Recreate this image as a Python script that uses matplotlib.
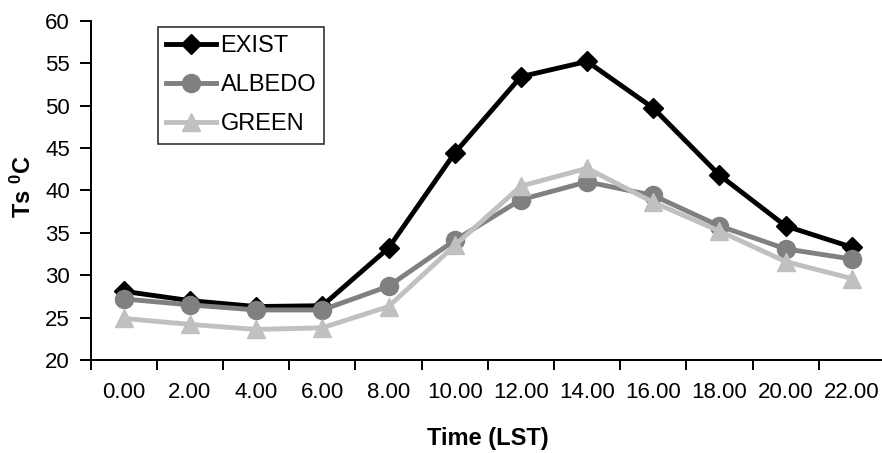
import numpy as np
import matplotlib
matplotlib.use("Agg")
import matplotlib.pyplot as plt

# Donnees
hours = ["0.00", "2.00", "4.00", "6.00", "8.00", "10.00",
         "12.00", "14.00", "16.00", "18.00", "20.00", "22.00"]
exist = [28.1, 27.0, 26.3, 26.4, 33.2, 44.4, 53.4, 55.2, 49.7, 41.8, 35.8, 33.3]
albedo = [27.2, 26.5, 25.9, 25.9, 28.7, 34.1, 38.9, 41.0, 39.4, 35.8, 33.1, 31.9]
green = [24.9, 24.2, 23.6, 23.8, 26.3, 33.5, 40.5, 42.6, 38.6, 35.2, 31.6, 29.6]


def main():
    plt.rcParams["font.family"] = ["Liberation Sans", "DejaVu Sans"]
    plt.rcParams["mathtext.fontset"] = "custom"
    plt.rcParams["mathtext.bf"] = "Liberation Sans:bold"
    plt.rcParams["mathtext.rm"] = "Liberation Sans"

    fig = plt.figure(figsize=(8.82, 4.53), dpi=100)
    ax = fig.add_axes([0.1028, 0.2053, 0.9005, 0.749])

    x = np.arange(len(hours))
    ax.plot(x, exist, color="black", lw=3.5, marker="D", ms=10, label="EXIST")
    ax.plot(x, albedo, color="#808080", lw=3.5, marker="o", ms=13, label="ALBEDO")
    ax.plot(x, green, color="#c0c0c0", lw=3.5, marker="^", ms=13, label="GREEN")

    ax.set_xlim(-0.5, len(hours) - 0.5)
    ax.set_ylim(20, 60)
    ax.set_yticks(np.arange(20, 61, 5))

    # graduations entre les categories, etiquettes au centre
    ax.set_xticks(x)
    ax.set_xticklabels(hours)
    ax.set_xticks(np.arange(-0.5, len(hours)), minor=True)
    ax.tick_params(axis="x", which="major", length=0, pad=16, labelsize=16)
    ax.tick_params(axis="x", which="minor", length=7, width=1.4, direction="out")
    ax.tick_params(axis="y", length=8, width=1.4, pad=7, labelsize=16)

    for side in ["top", "right"]:
        ax.spines[side].set_visible(False)
    for side in ["left", "bottom"]:
        ax.spines[side].set_linewidth(1.4)

    ax.set_xlabel("Time (LST)", fontsize=17, fontweight="bold")
    ax.set_ylabel(r"Ts $\mathbf{^{0}}$C", fontsize=17, fontweight="bold")
    ax.xaxis.set_label_coords(0.5, -0.197)
    ax.yaxis.set_label_coords(-0.069, 0.51)

    leg = ax.legend(loc="upper left", bbox_to_anchor=(0.0847, 0.981), borderaxespad=0,
                    fontsize=17, frameon=True, fancybox=False, handlelength=2.1,
                    handletextpad=0.2, labelspacing=0.72, borderpad=0.35)
    leg.get_frame().set_edgecolor("black")
    leg.get_frame().set_linewidth(1.2)

    fig.savefig("out.png", dpi=100)
    plt.close(fig)


if __name__ == "__main__":
    main()
